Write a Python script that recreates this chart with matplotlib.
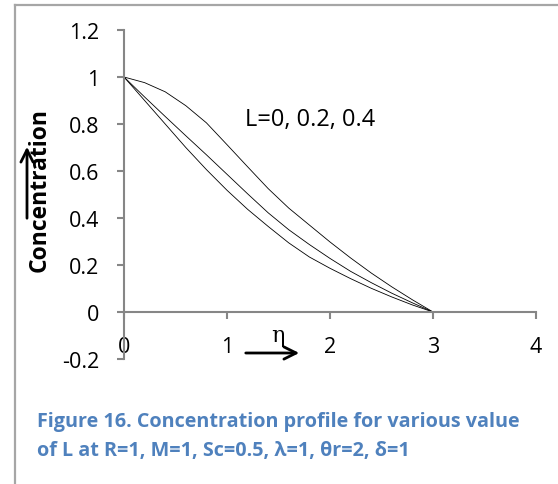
import matplotlib
matplotlib.use("Agg")
import matplotlib.pyplot as plt
from matplotlib.lines import Line2D

plt.rcParams['font.family'] = ['Open Sans', 'DejaVu Sans']

# values
eta = [0, 0.2, 0.4, 0.6, 0.8, 1.0, 1.2, 1.4, 1.6, 1.8, 2.0, 2.2, 2.4, 2.6, 2.8, 3.0]
conc_L0 = [1, 0.900, 0.800, 0.700, 0.606, 0.518, 0.437, 0.364, 0.294, 0.234,
           0.186, 0.142, 0.101, 0.064, 0.030, 0]
conc_L02 = [1, 0.915, 0.832, 0.750, 0.669, 0.586, 0.503, 0.422, 0.350, 0.287,
            0.228, 0.173, 0.125, 0.080, 0.039, 0]
conc_L04 = [1, 0.976, 0.937, 0.878, 0.805, 0.712, 0.618, 0.525, 0.442, 0.370,
            0.298, 0.230, 0.166, 0.107, 0.052, 0]

xticks = [0, 1, 2, 3, 4]
yticks = [-0.2, 0, 0.2, 0.4, 0.6, 0.8, 1, 1.2]
ytick_labels = ['-0.2', '0', '0.2', '0.4', '0.6', '0.8', '1', '1.2']

W, H = 558, 485
fig = plt.figure(figsize=(W / 100, H / 100), dpi=100)
ax = fig.add_axes([124 / W, 1 - 360 / H, (536 - 124) / W, (360 - 31) / H])

for y in (conc_L0, conc_L02, conc_L04):
    ax.plot(eta, y, color='black', lw=0.6)

ax.set_xlim(0, 4)
ax.set_ylim(-0.2, 1.2)
ax.spines['top'].set_visible(False)
ax.spines['right'].set_visible(False)
ax.spines['bottom'].set_position(('data', 0))
for s in ('left', 'bottom'):
    ax.spines[s].set_color('#868686')
    ax.spines[s].set_linewidth(1.5)

ax.set_xticks(xticks)
ax.set_xticklabels([str(t) for t in xticks])
ax.set_yticks(yticks)
ax.set_yticklabels(ytick_labels)
ax.tick_params(axis='both', direction='out', length=5, width=1.5,
               color='#868686', labelsize=15.5, labelcolor='black')
ax.tick_params(axis='x', pad=12)
ax.tick_params(axis='y', pad=13)

ax.text(1.17, 0.82, 'L=0, 0.2, 0.4', fontsize=17, ha='left', va='center')

# axis captions with arrows
fig.text(40 / W, 1 - 190 / H, 'Concentration', rotation=90, fontsize=16.5,
         fontweight='bold', ha='center', va='center')
ax.annotate('', xy=(27 / W, 1 - 145 / H), xytext=(27 / W, 1 - 222 / H),
            xycoords='figure fraction', textcoords='figure fraction',
            arrowprops=dict(arrowstyle='->', lw=2, color='black', mutation_scale=22))
ax.annotate('', xy=(302 / W, 1 - 354 / H), xytext=(243 / W, 1 - 354 / H),
            xycoords='figure fraction', textcoords='figure fraction',
            arrowprops=dict(arrowstyle='->', lw=2, color='black', mutation_scale=22))
fig.text(278 / W, 1 - 336 / H, 'η', family='DejaVu Serif', fontsize=16,
         ha='center', va='center')

# figure caption
fig.text(37 / W, 1 - 422 / H, 'Figure 16. Concentration profile for various value',
         fontsize=14.2, fontweight='bold', color='#4F81BD', ha='left', va='center')
fig.text(37 / W, 1 - 451 / H, 'of L at R=1, M=1, Sc=0.5, λ=1, θr=2, δ=1',
         fontsize=14.2, fontweight='bold', color='#4F81BD', ha='left', va='center')

# outer frame
fig.add_artist(Line2D([15 / W, 15 / W], [0, 1 - 6 / H], transform=fig.transFigure,
                      color='#A6A6A6', lw=1.6))
fig.add_artist(Line2D([15 / W, 1], [1 - 6 / H, 1 - 6 / H], transform=fig.transFigure,
                      color='#A6A6A6', lw=1.6))

fig.savefig('out.png', dpi=100)
